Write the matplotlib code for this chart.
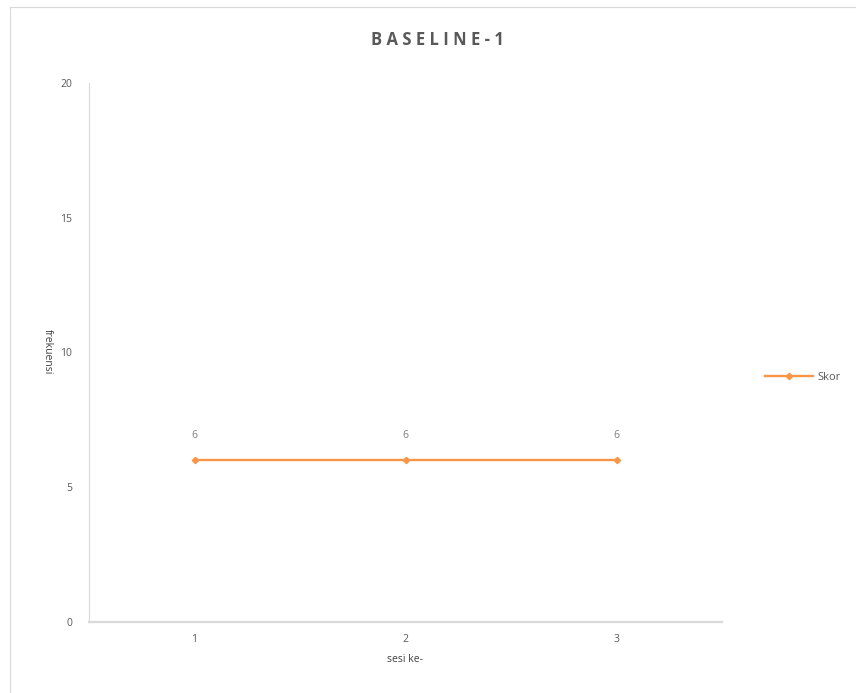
import matplotlib
matplotlib.use("Agg")
import matplotlib.pyplot as plt
from matplotlib.lines import Line2D

sessions = ["1", "2", "3"]
scores = [6, 6, 6]
y_ticks = [0, 5, 10, 15, 20]
series_name = "Skor"
title = "BASELINE-1"
x_label = "sesi ke-"
y_label = "frekuensi"

orange = "#F79646"
text_gray = "#595959"

plt.rcParams['font.family'] = ['Open Sans', 'DejaVu Sans']

fig = plt.figure(figsize=(8.56, 6.93), dpi=100)
ax = fig.add_axes([89/856, 1-622/693, (722-89)/856, (622-83)/693])

x = list(range(1, len(sessions)+1))
ax.plot(x, scores, color=orange, lw=1.7, marker='D', ms=3.2, zorder=3)
for xi, v in zip(x, scores):
    ax.annotate(str(v), (xi, v), xytext=(0, 14), textcoords='offset points',
                ha='center', va='bottom', fontsize=7.5, color='#7f7f7f')

ax.set_xlim(0.5, len(sessions)+0.5)
ax.set_ylim(0, 20)
ax.set_yticks(y_ticks)
ax.set_xticks(x)
ax.set_xticklabels(sessions)
ax.tick_params(axis='both', length=0, labelsize=7.5, colors=text_gray)
ax.tick_params(axis='y', pad=12)
ax.tick_params(axis='x', pad=9)
for s in ['top', 'right']:
    ax.spines[s].set_visible(False)
ax.spines['left'].set_color('#d9d9d9')
ax.spines['left'].set_linewidth(0.8)
ax.spines['bottom'].set_color('#d9d9d9')
ax.spines['bottom'].set_linewidth(1.6)

fig.text(405/856, 1-660/693, x_label, ha='center', va='center', fontsize=7.5, color='#404040')
fig.text(47/856, 1-352/693, y_label, ha='center', va='center', rotation=270, fontsize=7.5, color='#404040')

fig.text(437/856, 1-40/693, " ".join(title), ha='center', va='center',
         fontsize=12, fontweight='bold', color=text_gray)

leg = ax.legend([Line2D([0], [0], color=orange, lw=1.7, marker='D', ms=3.2)], [series_name],
                loc='center left', bbox_to_anchor=(755/856, 1-377/693), bbox_transform=fig.transFigure,
                frameon=False, fontsize=8, handlelength=4.3, handletextpad=0.4)
for t in leg.get_texts():
    t.set_color(text_gray)

# chart border (left and top visible)
fig.add_artist(Line2D([9.5/856, 9.5/856], [0, 1-6.5/693], transform=fig.transFigure, color='#d9d9d9', lw=0.8))
fig.add_artist(Line2D([9.5/856, 1], [1-6.5/693, 1-6.5/693], transform=fig.transFigure, color='#d9d9d9', lw=0.8))

fig.savefig("out.png", dpi=100)
